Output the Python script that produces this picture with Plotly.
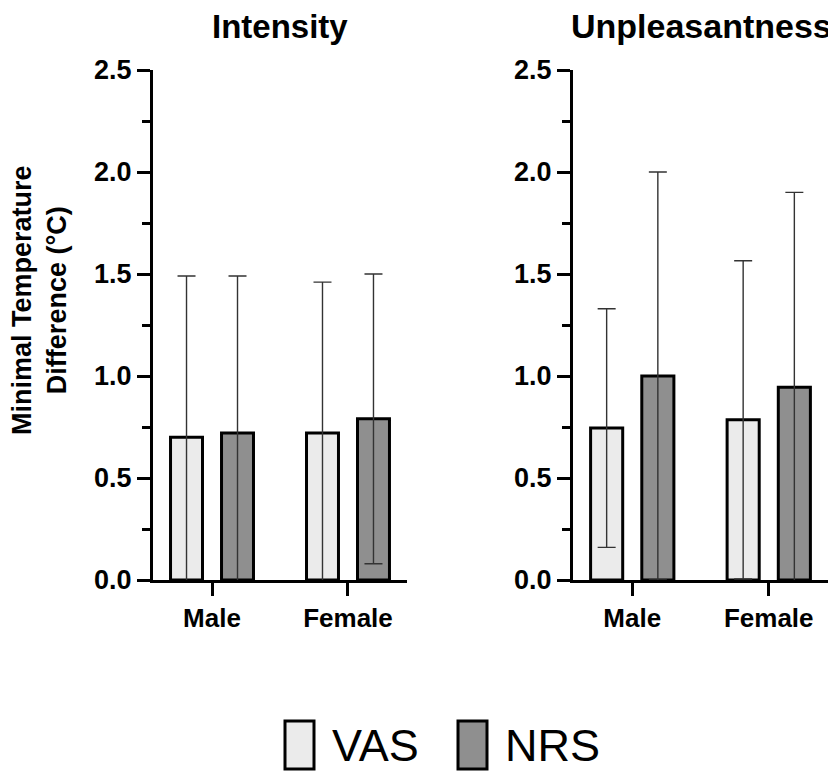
import plotly.graph_objects as go

# ---- data ----
categories = ["Male", "Female"]
panels = ["Intensity", "Unpleasantness"]
intensity_vas = [0.70, 0.72]
intensity_vas_sd = [0.79, 0.74]
intensity_nrs = [0.72, 0.79]
intensity_nrs_sd = [0.77, 0.71]
unpleasant_vas = [0.745, 0.785]
unpleasant_vas_sd = [0.585, 0.78]
unpleasant_nrs = [1.00, 0.945]
unpleasant_nrs_sd = [1.00, 0.955]
series_names = ["VAS", "NRS"]
y_ticks = [0.0, 0.5, 1.0, 1.5, 2.0, 2.5]

# page has an 8px body margin -> figure is drawn 8px in from the window corner
OFF = 8
W, H = 836 - OFF, 773 - OFF
def px(x):
    return (x - OFF) / W
def py(y):
    return (H - (y - OFF)) / H

VAS_COLOR = "#ebebeb"
NRS_COLOR = "#8f8f8f"
FONT = "Liberation Sans, Arial, sans-serif"

fig = go.Figure()

def add_pair(vas, vas_sd, nrs, nrs_sd, xa, ya):
    for name, vals, sd, col in [("VAS", vas, vas_sd, VAS_COLOR), ("NRS", nrs, nrs_sd, NRS_COLOR)]:
        fig.add_trace(go.Bar(
            x=categories, y=vals, name=name, showlegend=False,
            xaxis=xa, yaxis=ya,
            marker=dict(color=col, line=dict(color="black", width=3)),
            error_y=dict(type="data", array=sd, symmetric=True,
                         color="#333333", thickness=1.4, width=9),
        ))

add_pair(intensity_vas, intensity_vas_sd, intensity_nrs, intensity_nrs_sd, "x", "y")
add_pair(unpleasant_vas, unpleasant_vas_sd, unpleasant_nrs, unpleasant_nrs_sd, "x2", "y2")

xcommon = dict(type="category", range=[-0.434, 1.434], showline=True, linewidth=3,
               linecolor="black", ticks="outside", ticklen=13, tickwidth=3, tickcolor="black",
               showgrid=False, zeroline=False, automargin=False,
               tickfont=dict(family=FONT, size=26, color="black", weight="bold"))
ycommon = dict(range=[0, 2.5], showline=True, linewidth=3, linecolor="black",
               ticks="outside", ticklen=13, tickwidth=3, tickcolor="black",
               tickvals=y_ticks, ticktext=[f"{v:.1f}" for v in y_ticks],
               showgrid=False, zeroline=False, automargin=False,
               minor=dict(ticks="outside", ticklen=8, tickwidth=3, tickcolor="black", dtick=0.25, showgrid=False),
               tickfont=dict(family=FONT, size=27, color="black", weight="bold"))

ydom = [py(580), py(70)]
fig.update_layout(
    template="none",
    width=W, height=H,
    margin=dict(l=0, r=0, t=0, b=0, pad=0),
    paper_bgcolor="white", plot_bgcolor="white",
    barmode="group", bargap=0.25, bargroupgap=0.373,
    showlegend=False,
    xaxis=dict(domain=[px(153), px(407)], anchor="y", **xcommon),
    yaxis=dict(domain=ydom, anchor="x", **ycommon),
    xaxis2=dict(domain=[px(573), px(828)], anchor="y2", **xcommon),
    yaxis2=dict(domain=ydom, anchor="x2", **ycommon),
)

annotations = [
    dict(text=panels[0], x=px(280), y=py(26), xref="paper", yref="paper",
         xanchor="center", yanchor="middle", showarrow=False,
         font=dict(family=FONT, size=33, color="black", weight="bold")),
    dict(text=panels[1], x=px(701), y=py(26), xref="paper", yref="paper",
         xanchor="center", yanchor="middle", showarrow=False,
         font=dict(family=FONT, size=34, color="black", weight="bold")),
    dict(text="Minimal Temperature<br>Difference (°C)", x=px(39), y=py(300),
         xref="paper", yref="paper", xanchor="center", yanchor="middle",
         textangle=-90, showarrow=False,
         font=dict(family=FONT, size=27, color="black", weight="bold")),
]

# legend (manual)
legend_items = [(285, 314, 330, series_names[0], VAS_COLOR), (458, 487, 503, series_names[1], NRS_COLOR)]
shapes = []
for x0, x1, tx, label, col in legend_items:
    shapes.append(dict(type="rect", xref="paper", yref="paper",
                       x0=px(x0), x1=px(x1), y0=py(769), y1=py(721),
                       fillcolor=col, line=dict(color="black", width=3)))
    annotations.append(dict(text=label, x=px(tx), y=py(745), xref="paper", yref="paper",
                            xanchor="left", yanchor="middle", showarrow=False,
                            font=dict(family=FONT, size=45, color="black")))

fig.update_layout(annotations=annotations, shapes=shapes)
fig.write_html("out.html")
